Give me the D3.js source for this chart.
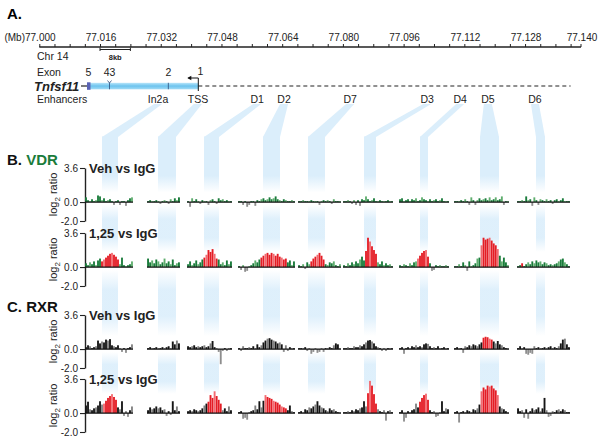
<!DOCTYPE html>
<html><head><meta charset="utf-8">
<script src="https://cdn.jsdelivr.net/npm/d3@7"></script>
<style>body{margin:0;background:#fff}svg{display:block;font-family:"Liberation Sans",Arial,sans-serif}</style>
</head><body><svg id="c" width="603" height="439"></svg>
<script>
// ---------------- DATA ----------------
const axisLabels = ["77.000","77.016","77.032","77.048","77.064","77.080","77.096","77.112","77.128","77.140"];
const exonNames = ["5","43","2","1"];
const exonPos = [77.0127, 77.0185, 77.0340, 77.0419];
const enhancerNames = ["In2a","TSS","D1","D2","D7","D3","D4","D5","D6"];
const enhancerPos = [77.0313, 77.0418, 77.0574, 77.0645, 77.0819, 77.1022, 77.1109, 77.1182, 77.1306];
const rowTitles = ["Veh vs IgG","1,25 vs IgG","Veh vs IgG","1,25 vs IgG"];
const yTicks = [3.6, 0.0, -2.0];

const vdrVeh = [
 [0.5,0.2,0.1,0.3,0.1,0.2,0.7,0.6,0.2,0.4,0.1,0.2,0.3,0.1,-0.3,0.1,0.2,-0.3,0.1,0.1,-0.4,0.2,0.4,0.5],
 [0.1,0.2,0.1,0.1,0.2,0.1,-0.2,0.1,0.2,0.1,-0.2,0.3,0.1,0.4,0.2,0.5],
 [0.1,-0.5,0.4,0.1,0.3,0.1,-0.2,0.2,0.1,0.1,-0.3,0.2,0.3,0.1,-0.2,0.4,0.2,0.3,0.1,0.2,0.1,0.1],
 [0.1,0.1,-0.3,0.1,-0.5,-0.3,0.1,0.1,-0.4,0.2,0.1,0.3,0.4,0.2,0.3,0.5,0.3,0.4,0.6,0.3,0.2,0.1,0.3,0.2,0.1,0.1,0.2,0.1],
 [0.1,0.1,0.2,0.1,0.1,0.1,0.2,0.1,0.1,0.1,-0.3,0.1,0.2,0.1,0.2,0.1,-0.2,0.3,0.1,0.1,0.1],
 [0.1,0.1,0.2,0.1,-0.2,0.2,-0.3,0.2,-0.4,0.3,0.2,0.6,0.3,0.1,0.2,0.4,0.1,0.1,0.2,0.1,0.1,0.1,0.2,0.1,0.1],
 [0.3,0.4,0.1,0.2,0.3,0.1,0.3,0.2,0.4,0.1,0.2,0.5,0.3,0.2,0.1,0.3,0.1,0.2,0.3,0.1,0.2,0.4,0.1,0.1,0.1],
 [0.1,0.1,0.1,0.2,0.1,0.3,0.1,-0.3,0.5,0.2,-0.3,0.2,0.4,0.2,0.3,0.4,0.2,0.5,0.2,0.3,0.5,0.2,0.3,0.6,-0.3,0.1,0.1],
 [0.1,0.1,0.2,0.1,0.6,0.2,0.3,-0.4,0.5,0.2,-0.3,0.3,0.2,0.1,0.3,0.1,0.2,-0.2,0.2,0.3,0.1,0.2,0.4,0.1,0.1,0.1]
];
const vdr125 = [
 [0.4,0.2,0.5,0.3,0.6,0.2,0.7,0.9,0.6,0.8,1.0,1.2,1.4,1.5,1.3,1.1,0.8,0.3,1.0,0.2,0.1,0.2,0.3,0.6],
 [0.9,0.5,0.7,0.4,0.8,0.6,0.3,0.5,0.9,0.4,0.6,0.3,0.8,0.2,0.4,0.5],
 [0.3,0.6,0.2,0.4,0.7,0.3,0.5,0.8,1.0,1.3,1.8,1.6,1.9,1.4,0.9,0.8,0.3,0.5,0.2,0.7,0.3,0.6],
 [0.1,-0.3,0.2,-0.5,-0.4,0.1,0.2,0.4,0.7,0.5,0.8,1.0,1.2,1.4,1.5,1.3,1.5,1.4,1.2,1.4,1.1,1.0,0.8,0.9,0.5,0.7,0.2,0.6],
 [0.2,0.1,0.3,-0.2,0.5,0.3,0.6,0.9,1.1,1.3,1.5,1.2,0.8,0.3,0.2,0.5,0.4,0.6,0.2,0.1,0.3],
 [0.2,0.1,0.4,0.2,0.5,0.3,0.6,0.4,0.8,1.1,0.7,1.7,3.1,2.7,2.2,1.8,1.4,0.5,0.3,0.6,0.2,0.4,0.2,0.3,0.1],
 [0.2,0.1,0.3,0.2,0.1,0.4,0.2,0.5,0.6,0.9,1.2,1.5,1.7,1.8,1.1,0.4,-0.4,-0.3,0.2,0.1,0.2,0.1,0.1,0.2,0.1],
 [0.1,0.1,0.3,0.1,0.5,0.2,-0.4,0.6,0.1,0.2,0.4,0.9,1.0,2.3,3.1,2.9,3.0,3.1,2.8,2.5,2.3,1.9,1.2,0.6,1.0,0.5,0.2],
 [0.1,0.2,0.4,0.1,0.3,0.5,0.3,0.6,0.4,0.7,0.5,0.6,0.3,0.5,0.4,0.2,0.3,0.2,0.3,0.4,0.6,0.8,0.9,0.5,0.3,0.1]
];
const rxrVeh = [
 [0.2,0.4,0.3,0.1,0.2,0.3,0.9,0.6,0.8,0.7,1.0,0.9,1.05,0.4,0.3,0.2,0.4,0.1,-0.3,0.1,-0.4,0.1,0.2,0.5],
 [0.1,0.2,0.1,0.1,0.2,0.1,0.1,0.2,0.1,0.2,0.3,0.1,0.8,0.5,0.9,0.6],
 [0.3,0.2,0.3,0.4,0.2,0.3,0.2,0.3,0.4,0.2,0.3,0.6,0.85,0.2,0.1,-0.3,-1.6,-0.2,0.1,-0.2,0.1,0.1],
 [0.1,-0.2,0.3,0.1,0.1,0.2,0.1,0.3,0.1,0.5,0.2,0.4,0.7,0.9,1.1,1.15,1.0,0.9,0.8,0.6,0.7,0.5,-0.3,0.4,-0.2,0.2,0.1,0.1],
 [0.1,0.1,0.1,0.2,-0.2,0.1,-0.5,-0.3,0.1,-0.4,-0.3,0.1,-0.3,0.1,0.1,0.2,0.1,0.4,0.6,0.5,0.1],
 [0.1,0.1,0.2,0.1,0.1,0.3,0.2,0.2,0.4,0.3,0.5,0.7,0.9,0.95,0.8,0.6,0.3,0.2,0.1,-0.2,0.1,-0.2,0.1,0.1,0.1],
 [0.1,0.2,-0.5,0.1,0.2,0.1,0.3,0.2,0.4,0.2,0.3,0.2,0.5,0.6,0.55,0.3,0.1,0.2,0.1,0.3,0.1,0.1,0.2,0.1,0.1],
 [0.1,0.2,0.1,0.1,-0.4,0.3,0.2,0.4,0.3,0.5,0.4,0.3,0.5,0.7,1.2,1.3,1.25,1.1,1.0,0.8,0.6,0.85,0.5,0.4,0.2,0.1,0.1],
 [0.1,0.3,0.1,0.2,-0.5,-0.6,-0.4,-0.5,0.3,0.1,0.2,0.1,0.1,0.2,0.1,0.2,0.3,0.1,0.2,0.1,0.3,0.6,1.0,1.1,0.5,0.2]
];
const rxr125 = [
 [0.8,1.2,0.4,0.3,0.5,0.6,0.8,1.25,0.9,1.0,1.3,1.6,1.8,2.0,1.7,1.4,0.6,0.4,1.25,-0.3,0.2,-0.4,0.3,0.7],
 [0.3,0.6,0.4,0.5,0.7,0.5,0.6,0.3,0.4,-0.3,0.2,-0.2,1.25,0.3,0.7,0.2],
 [0.2,0.3,0.2,0.4,0.3,0.2,0.3,0.5,0.8,1.0,1.2,1.9,1.6,2.3,1.8,1.4,1.0,0.3,0.5,0.2,0.7,0.3],
 [0.1,0.2,-0.6,-0.5,-0.7,0.1,0.2,0.3,0.8,0.4,1.25,0.6,1.3,1.9,1.7,1.6,1.5,1.3,1.2,1.1,0.9,0.7,0.6,0.5,0.3,0.8,0.2,0.1],
 [0.1,0.2,0.1,0.4,0.3,0.6,0.5,0.7,0.9,1.25,0.8,0.6,0.5,0.3,0.2,0.5,0.3,0.4,0.2,0.1,0.1],
 [0.1,0.1,0.2,0.1,0.3,0.2,0.4,0.3,0.5,0.6,1.25,0.7,2.1,3.4,2.9,2.0,1.0,0.4,0.2,0.1,0.3,-0.8,0.2,0.3,0.1],
 [0.1,0.3,-0.9,-0.5,0.2,0.1,0.3,0.4,1.0,0.6,1.2,1.6,1.9,2.05,1.4,0.3,0.1,0.2,-0.4,-0.3,0.1,1.25,0.2,0.5,0.4],
 [0.1,0.2,-1.0,0.1,0.2,0.1,0.3,0.2,0.1,0.4,0.3,0.5,0.9,2.3,2.7,2.5,2.9,2.8,2.9,2.6,2.4,1.9,0.7,0.5,0.4,0.2,0.1],
 [0.5,0.2,0.3,-0.5,0.4,-0.6,0.2,0.5,0.3,0.4,0.6,0.2,0.5,1.6,0.3,-0.4,-0.3,0.2,0.1,0.3,0.4,0.2,0.4,0.3,0.1,0.1]
];
// peak (bound-region) index ranges per segment
const vdrVehPeaks = [null,null,null,null,null,null,null,null,null];
const vdr125Peaks = [[8,16],null,[8,14],[11,23],[6,12],[11,16],[9,14],[13,21],[2,2]];
const rxrVehPeaks = [null,null,null,null,null,null,null,[14,18],null];
const rxr125Peaks = [[9,15],null,[10,16],[13,23],null,[12,16],[10,14],[13,21],null];

// ---------------- LAYOUT ----------------
const svg = d3.select("#c");
const blue = "#dbeefb";
const segX = [[85,133],[147,180],[187,232],[238,295],[298,341],[343,393],[399,449],[454,509],[517,570]];
const bandX = [[102,118],[158,176],[204,219],[263,280],[308,325],[364,376],[420,428],[480,499],[536,545]];
const rows = [
  {zero:202, data:vdrVeh, peaks:vdrVehPeaks, base:["#1a7c3b","#5fae6e"]},
  {zero:267, data:vdr125, peaks:vdr125Peaks, base:["#1a7c3b","#5fae6e"]},
  {zero:349, data:rxrVeh, peaks:rxrVehPeaks, base:["#151515","#808080"]},
  {zero:413, data:rxr125, peaks:rxr125Peaks, base:["#151515","#808080"]}
];

const defs = svg.append("defs");
function grad(id, stops){
  const g = defs.append("linearGradient").attr("id",id).attr("x1",0).attr("x2",0).attr("y1",0).attr("y2",1);
  stops.forEach(s=>g.append("stop").attr("offset",s[0]).attr("stop-color",s[2]||blue).attr("stop-opacity",s[1]));
}
grad("fadeDown",[[0,1],[0.7,1],[1,0]]);
grad("fadeBoth",[[0,0],[0.3,0.9],[0.7,0.9],[1,0]]);
grad("geneG",[[0,1,"#b8e5fa"],[0.5,1,"#6cc3ee"],[1,1,"#a2dbf6"]]);

const gx = d3.scaleLinear().domain([77.000, 77.140]).range([39.3, 570.6]);
const axisY = 47, axisEnd = 581;
const geneY = 86;

// ----- blue projection shapes -----
const bandG = svg.append("g");
enhancerPos.forEach((p,i)=>{
  const ex = gx(p), b = bandX[i];
  bandG.append("path").attr("d",`M${ex-4},104 L${ex+4},104 L${b[1]},137 L${b[0]},137 Z`).attr("fill",blue);
  bandG.append("rect").attr("x",b[0]).attr("width",b[1]-b[0]).attr("y",136.5).attr("height",56).attr("fill","url(#fadeDown)");
  [[205,252],[270,336],[352,394]].forEach(r=>{
    bandG.append("rect").attr("x",b[0]).attr("width",b[1]-b[0]).attr("y",r[0]).attr("height",r[1]-r[0]).attr("fill","url(#fadeBoth)");
  });
});

// ----- panel A -----
svg.append("text").attr("x",7).attr("y",19).attr("font-size",15).attr("font-weight","bold").text("A.");
const minor = d3.range(0,141,4).map(k=>77+k/1000);
const axG = svg.append("g").attr("transform",`translate(0,${axisY})`)
  .call(d3.axisTop(gx).tickValues(minor).tickSize(3).tickSizeOuter(0).tickFormat(""));
axG.select(".domain").remove();
axG.selectAll("line").attr("stroke","#222").attr("stroke-width",1);
svg.append("line").attr("x1",gx(77)).attr("x2",axisEnd).attr("y1",axisY).attr("y2",axisY).attr("stroke","#222").attr("stroke-width",1.3);
svg.append("line").attr("x1",axisEnd).attr("x2",axisEnd).attr("y1",axisY-3).attr("y2",axisY).attr("stroke","#222");
axisLabels.forEach((l,i)=>{
  const x = i < axisLabels.length-1 ? gx(77 + i*0.016) : axisEnd;
  svg.append("text").attr("x",x+1).attr("y",41).attr("text-anchor","middle").attr("font-size",10).attr("fill","#222").text(l);
});
svg.append("text").attr("x",25).attr("y",41).attr("text-anchor","end").attr("font-size",10).attr("fill","#222").text("(Mb)");
svg.append("text").attr("x",37).attr("y",60).attr("font-size",10.5).attr("fill","#222").text("Chr 14");
// 8 kb scale bar
const sb0 = gx(77.016), sb1 = gx(77.024);
svg.append("path").attr("d",`M${sb0},47.5V51M${sb0},49.5H${sb1}M${sb1},47.5V51`).attr("stroke","#222").attr("fill","none");
svg.append("text").attr("x",(sb0+sb1)/2).attr("y",59.5).attr("text-anchor","middle").attr("font-size",7.5).attr("font-weight","bold").attr("fill","#222").text("8kb");

// gene track
svg.append("text").attr("x",37).attr("y",76).attr("font-size",10.5).attr("fill","#222").text("Exon");
svg.append("text").attr("x",34).attr("y",geneY+5).attr("font-size",13).attr("font-weight","bold").attr("font-style","italic").attr("fill","#222").text("Tnfsf11");
svg.append("line").attr("x1",81).attr("x2",gx(exonPos[0])).attr("y1",geneY).attr("y2",geneY).attr("stroke","#222").attr("stroke-width",1.2);
svg.append("line").attr("x1",gx(exonPos[3])).attr("x2",gx(77.140)).attr("y1",geneY).attr("y2",geneY).attr("stroke","#222").attr("stroke-width",1.1).attr("stroke-dasharray","4,3");
svg.append("rect").attr("x",gx(exonPos[0])).attr("y",geneY-3.2).attr("width",gx(exonPos[3])-gx(exonPos[0])).attr("height",6.5).attr("fill","url(#geneG)");
svg.append("rect").attr("x",gx(exonPos[0])-0.5).attr("y",geneY-3.7).attr("width",3.5).attr("height",7.5).attr("fill","#5a63b5");
[1,2].forEach(i=>svg.append("line").attr("x1",gx(exonPos[i])).attr("x2",gx(exonPos[i])).attr("y1",geneY-3.2).attr("y2",geneY+3.3).attr("stroke","#2b4a7a").attr("stroke-width",0.8));
svg.append("path").attr("d",`M${gx(exonPos[1])-2},${geneY-5.5}L${gx(exonPos[1])},${geneY-3}L${gx(exonPos[1])+2},${geneY-5.5}`).attr("stroke","#2b4a7a").attr("fill","none").attr("stroke-width",0.8);
const tss = gx(exonPos[3]);
svg.append("path").attr("d",`M${tss},${geneY+5}V${geneY-8}H${tss-10}`).attr("stroke","#111").attr("fill","none").attr("stroke-width",1);
svg.append("path").attr("d",`M${tss-11},${geneY-8}L${tss-7},${geneY-10.2}L${tss-7},${geneY-5.8}Z`).attr("fill","#111");
exonNames.forEach((n,i)=>{
  const x = gx(exonPos[i]) + (i===3 ? 2 : (i===0?1:0));
  svg.append("text").attr("x",x).attr("y",i===3?75:76).attr("text-anchor","middle").attr("font-size",10.5).attr("fill","#222").text(n);
});
svg.append("text").attr("x",37).attr("y",103).attr("font-size",10.5).attr("fill","#222").text("Enhancers");
enhancerNames.forEach((n,i)=>{
  svg.append("text").attr("x",gx(enhancerPos[i])).attr("y",103).attr("text-anchor","middle").attr("font-size",10.5).attr("fill","#222").text(n);
});

// ----- panels B and C -----
const pB = svg.append("text").attr("x",7).attr("y",165).attr("font-size",15).attr("font-weight","bold");
pB.append("tspan").attr("fill","#111").text("B. ");
pB.append("tspan").attr("fill","#1a7c3b").text("VDR");
svg.append("text").attr("x",7).attr("y",312).attr("font-size",15).attr("font-weight","bold").attr("fill","#111").text("C. RXR");

function barColor(v,i,peak,base){
  if (v < 0) return "#8e8e8e";
  if (peak && i>=peak[0] && i<=peak[1]) return (i%4===1) ? "#f26a70" : "#e41d25";
  return base[i%3===2 ? 1 : 0];
}

rows.forEach((row,r)=>{
  const y = d3.scaleLinear().domain([-2,3.6]).range([row.zero+19,row.zero-34]);
  const g = svg.append("g");
  const ya = g.append("g").attr("transform","translate(85,0)")
    .call(d3.axisLeft(y).tickValues(yTicks).tickSize(5).tickSizeOuter(0).tickPadding(2).tickFormat(d=>d.toFixed(1)));
  ya.select(".domain").attr("stroke","#222").attr("stroke-width",1.4);
  ya.selectAll(".tick line").attr("stroke","#222").attr("stroke-width",1.1);
  ya.selectAll("text").attr("font-size",10).attr("fill","#222").attr("font-family","'Liberation Sans',Arial,sans-serif");
  const lt = g.append("text").attr("transform",`translate(57,${row.zero-7.5}) rotate(-90)`).attr("text-anchor","middle").attr("font-size",11).attr("fill","#222");
  lt.append("tspan").text("log");
  lt.append("tspan").attr("font-size",8).attr("dy",3).text("2");
  lt.append("tspan").attr("dy",-3).text(" ratio");
  g.append("text").attr("x",89).attr("y",row.zero-29).attr("font-size",13).attr("font-weight","bold").attr("fill","#222").text(rowTitles[r]);
  row.data.forEach((vals,s)=>{
    const xb = d3.scaleBand().domain(d3.range(vals.length)).range(segX[s]).paddingInner(0.08).paddingOuter(0.05);
    g.append("g").selectAll("rect").data(vals).join("rect")
      .attr("x",(d,i)=>xb(i)).attr("width",xb.bandwidth())
      .attr("y",d=>Math.min(y(d),y(0))).attr("height",d=>Math.abs(y(d)-y(0)))
      .attr("fill",(d,i)=>barColor(d,i,row.peaks[s],row.base));
    g.append("line").attr("x1",segX[s][0]).attr("x2",segX[s][1]).attr("y1",y(0)).attr("y2",y(0)).attr("stroke","#111").attr("stroke-width",1.2);
  });
});
</script></body></html>
